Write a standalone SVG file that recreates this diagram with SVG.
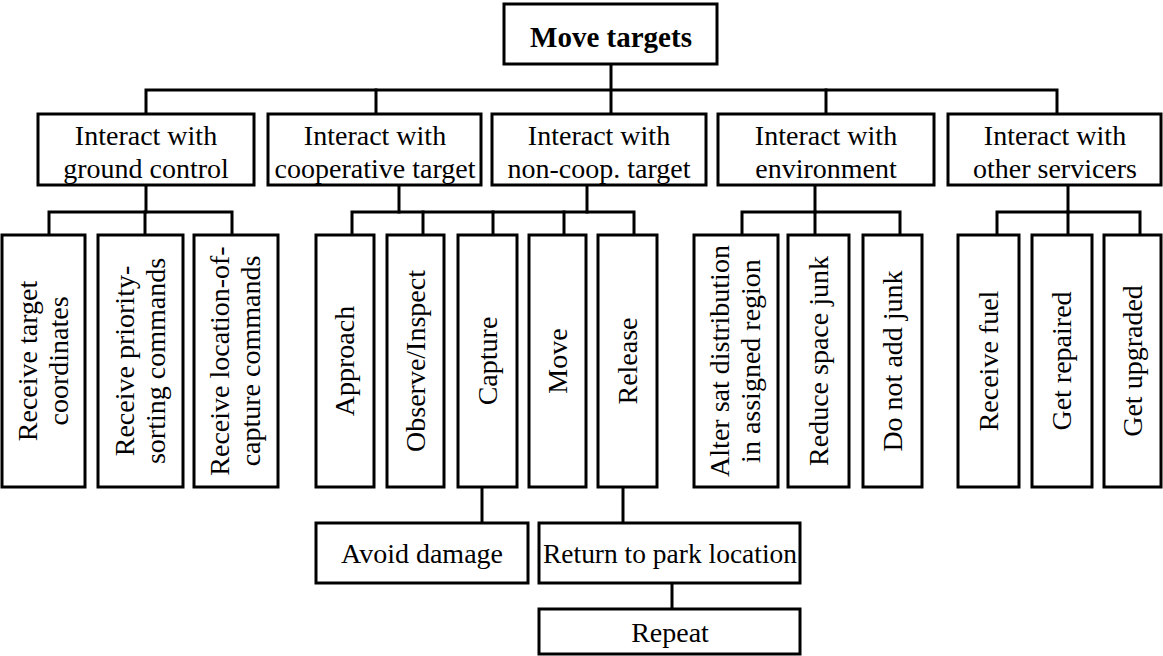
<svg xmlns="http://www.w3.org/2000/svg" width="1163" height="656" viewBox="0 0 1163 656">
  <style>
    .box { fill: #ffffff; stroke: #000000; stroke-width: 3; }
    .lbl { font-family: "Liberation Serif", "Times New Roman", serif; font-size: 28px; fill: #000000; text-anchor: middle; }
    .root { font-weight: bold; font-size: 29px; }
    .wire { fill: none; stroke: #000000; stroke-width: 3; stroke-linecap: square; }
  </style>
  <rect width="1163" height="656" fill="#ffffff"/>

  <!-- tree connectors -->
  <g id="connectors" class="wire">
    <!-- root to first level -->
    <path d="M611 64 V114"/>
    <path d="M146 114 V90 H1057 V114"/>
    <path d="M376 90 V114"/>
    <path d="M826 90 V114"/>
    <!-- ground control branch -->
    <path d="M146 185 V212"/>
    <path d="M49 235 V212 H232 V235"/>
    <path d="M145 212 V235"/>
    <!-- cooperative / non-cooperative target branch -->
    <path d="M399 185 V212"/>
    <path d="M587 185 V212"/>
    <path d="M352 235 V212 H634 V235"/>
    <path d="M423 212 V235"/>
    <path d="M493 212 V235"/>
    <path d="M564 212 V235"/>
    <!-- environment branch -->
    <path d="M815 185 V212"/>
    <path d="M742 235 V212 H900 V235"/>
    <path d="M815 212 V235"/>
    <!-- other servicers branch -->
    <path d="M1068 185 V212"/>
    <path d="M997 235 V212 H1140 V235"/>
    <path d="M1068 212 V235"/>
    <!-- lower steps -->
    <path d="M482 487 V523"/>
    <path d="M623 487 V523"/>
    <path d="M672 583 V609"/>
  </g>

  <!-- root -->
  <g id="move-targets">
    <rect class="box" x="504" y="4" width="213" height="60"/>
    <text class="lbl root" x="611" y="47">Move targets</text>
  </g>

  <!-- first level -->
  <g id="ground-control">
    <rect class="box" x="38" y="114" width="216" height="71"/>
    <text class="lbl" x="146" y="145">Interact with</text>
    <text class="lbl" x="146" y="178">ground control</text>
  </g>
  <g id="cooperative-target">
    <rect class="box" x="268" y="114" width="213" height="71"/>
    <text class="lbl" x="375" y="145">Interact with</text>
    <text class="lbl" x="375" y="178">cooperative target</text>
  </g>
  <g id="noncoop-target">
    <rect class="box" x="492" y="114" width="214" height="71"/>
    <text class="lbl" x="599" y="145">Interact with</text>
    <text class="lbl" x="599" y="178">non-coop. target</text>
  </g>
  <g id="environment">
    <rect class="box" x="718" y="114" width="216" height="71"/>
    <text class="lbl" x="826" y="145">Interact with</text>
    <text class="lbl" x="826" y="178">environment</text>
  </g>
  <g id="other-servicers">
    <rect class="box" x="948" y="114" width="213" height="71"/>
    <text class="lbl" x="1055" y="145">Interact with</text>
    <text class="lbl" x="1055" y="178">other servicers</text>
  </g>

  <!-- second level: upright boxes with text reading upward -->
  <g id="receive-coordinates">
    <rect class="box" x="2" y="235" width="83" height="252"/>
    <g transform="translate(43.5 361) rotate(-90)">
      <text class="lbl" x="0" y="-7">Receive target</text>
      <text class="lbl" x="0" y="24">coordinates</text>
    </g>
  </g>
  <g id="receive-priority">
    <rect class="box" x="98" y="235" width="85" height="252"/>
    <g transform="translate(140.5 361) rotate(-90)">
      <text class="lbl" x="0" y="-7">Receive priority-</text>
      <text class="lbl" x="0" y="24">sorting commands</text>
    </g>
  </g>
  <g id="receive-location">
    <rect class="box" x="194" y="235" width="84" height="252"/>
    <g transform="translate(236 361) rotate(-90)">
      <text class="lbl" x="0" y="-7">Receive location-of-</text>
      <text class="lbl" x="0" y="24">capture commands</text>
    </g>
  </g>
  <g id="approach">
    <rect class="box" x="316" y="235" width="58" height="252"/>
    <text class="lbl" transform="translate(345 361) rotate(-90)" x="0" y="9">Approach</text>
  </g>
  <g id="observe">
    <rect class="box" x="387" y="235" width="57" height="252"/>
    <text class="lbl" transform="translate(415.5 361) rotate(-90)" x="0" y="9">Observe/Inspect</text>
  </g>
  <g id="capture">
    <rect class="box" x="458" y="235" width="59" height="252"/>
    <text class="lbl" transform="translate(487.5 361) rotate(-90)" x="0" y="9">Capture</text>
  </g>
  <g id="move">
    <rect class="box" x="529" y="235" width="57" height="252"/>
    <text class="lbl" transform="translate(557.5 361) rotate(-90)" x="0" y="9">Move</text>
  </g>
  <g id="release">
    <rect class="box" x="598" y="235" width="59" height="252"/>
    <text class="lbl" transform="translate(627.5 361) rotate(-90)" x="0" y="9">Release</text>
  </g>
  <g id="alter-distribution">
    <rect class="box" x="694" y="235" width="84" height="252"/>
    <g transform="translate(736 361) rotate(-90)">
      <text class="lbl" x="0" y="-7">Alter sat distribution</text>
      <text class="lbl" x="0" y="24">in assigned region</text>
    </g>
  </g>
  <g id="reduce-junk">
    <rect class="box" x="788" y="235" width="61" height="252"/>
    <text class="lbl" transform="translate(818.5 361) rotate(-90)" x="0" y="9">Reduce space junk</text>
  </g>
  <g id="no-junk">
    <rect class="box" x="863" y="235" width="59" height="252"/>
    <text class="lbl" transform="translate(892.5 361) rotate(-90)" x="0" y="9">Do not add junk</text>
  </g>
  <g id="receive-fuel">
    <rect class="box" x="958" y="235" width="61" height="252"/>
    <text class="lbl" transform="translate(988.5 361) rotate(-90)" x="0" y="9">Receive fuel</text>
  </g>
  <g id="get-repaired">
    <rect class="box" x="1032" y="235" width="60" height="252"/>
    <text class="lbl" transform="translate(1062 361) rotate(-90)" x="0" y="9">Get repaired</text>
  </g>
  <g id="get-upgraded">
    <rect class="box" x="1104" y="235" width="57" height="252"/>
    <text class="lbl" transform="translate(1132.5 361) rotate(-90)" x="0" y="9">Get upgraded</text>
  </g>

  <!-- third and fourth level -->
  <g id="avoid-damage">
    <rect class="box" x="316" y="523" width="212" height="60"/>
    <text class="lbl" x="422" y="563">Avoid damage</text>
  </g>
  <g id="return-park">
    <rect class="box" x="539" y="523" width="261" height="60"/>
    <text class="lbl" x="670" y="563" textLength="254" lengthAdjust="spacingAndGlyphs">Return to park location</text>
  </g>
  <g id="repeat">
    <rect class="box" x="539" y="609" width="261" height="45"/>
    <text class="lbl" x="670" y="642">Repeat</text>
  </g>
</svg>
